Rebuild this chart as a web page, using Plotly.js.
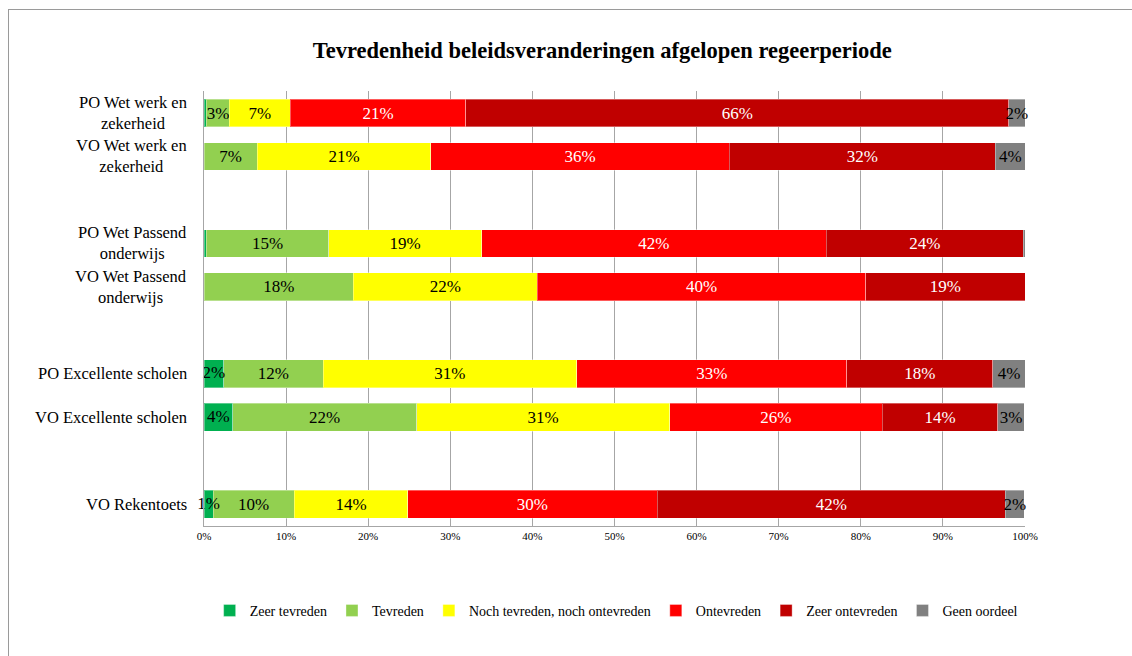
<!DOCTYPE html>
<html><head><meta charset="utf-8">
<script src="https://cdn.plot.ly/plotly-3.0.1.min.js"></script>
<style>html,body{margin:0;padding:0;background:#fff;overflow:hidden}
#frame{position:fixed;left:8px;top:9px;width:1200px;height:700px;border:1px solid #9a9a9a;pointer-events:none}
</style></head>
<body><div id="chart" style="width:1132px;height:656px"></div><div id="frame"></div>
<script>
const categories = ['PO Wet werk en<br>zekerheid','VO Wet werk en<br>zekerheid','PO Wet Passend<br>onderwijs','VO Wet Passend<br>onderwijs','PO Excellente scholen','VO Excellente scholen','VO Rekentoets'];
const categoryOrder = ['PO Wet werk en<br>zekerheid','VO Wet werk en<br>zekerheid',' ','PO Wet Passend<br>onderwijs','VO Wet Passend<br>onderwijs','  ','PO Excellente scholen','VO Excellente scholen','   ','VO Rekentoets'];
const seriesNames = ['Zeer tevreden','Tevreden','Noch tevreden, noch ontevreden','Ontevreden','Zeer ontevreden','Geen oordeel'];
const zeerTevreden   = [0.3, 0,    0.3, 0,    2.4, 3.5, 1.1];
const tevreden       = [2.8, 6.5,  14.9,18.2, 12.1,22.4, 9.9];
const noch           = [7.4, 21.1, 18.6,22.4, 30.9,30.8, 13.8];
const ontevreden     = [21.4,36.4, 42.0,40.0, 32.9,25.9, 30.4];
const zeerOntevreden = [66.1,32.4, 24.0,19.4, 17.8,14.1, 42.4];
const geenOordeel    = [2.0, 3.6,  0.2, 0,    3.9, 3.2,  2.3];
const tickVals = [0,10,20,30,40,50,60,70,80,90,100];

const colors = ['#00B050','#92D050','#FFFF00','#FF0000','#C00000','#808080'];
const textColors = ['#000','#000','#000','#fff','#fff','#000'];
const series = [zeerTevreden,tevreden,noch,ontevreden,zeerOntevreden,geenOordeel];
const font = 'Liberation Serif, Times New Roman, serif';
const label = v => v>=0.5 ? Math.round(v)+'%' : '';

const traces = series.map((vals,i)=>({
  type:'bar', orientation:'h', name:seriesNames[i],
  y:categories, x:vals,
  text: i===0 ? vals.map(()=> '') : vals.map(label),
  texttemplate:'%{text}', textposition:'inside', insidetextanchor:'middle', textangle:0,
  constraintext:'none', cliponaxis:false,
  textfont:{family:font,size:17,color:textColors[i]},
  marker:{color:colors[i], line:{color:'rgba(255,255,255,0.35)',width:1}},
  hoverinfo:'name+x'
}));
// labels of the thin first segment, drawn on top so they can overflow
traces.push({
  type:'scatter', mode:'text', showlegend:false, hoverinfo:'skip', cliponaxis:false,
  y:categories, x:zeerTevreden.map(v=>v/2), text:zeerTevreden.map(label),
  textposition:'middle center', textfont:{family:font,size:17,color:'#000'}
});

const annotations = categories.map(c=>({
  xref:'paper', x:0, xshift:-15, xanchor:'right', yref:'y', y:c, yanchor:'middle',
  text:c, align:'center', showarrow:false, font:{family:font,size:16.5,color:'#000'}
}));

const layout = {
  barmode:'stack', bargap:0.36,
  width:1132, height:656,
  margin:{l:204,r:107,t:91,b:130},
  paper_bgcolor:'#fff', plot_bgcolor:'#fff',
  font:{family:font,color:'#000'},
  title:{text:'<b>Tevredenheid beleidsveranderingen afgelopen regeerperiode</b>',
    font:{family:font,size:22.5,color:'#000'}, xref:'container', x:0.532, xanchor:'center', yref:'container', y:0.924, yanchor:'middle'},
  xaxis:{range:[0,100], tickvals:tickVals, ticktext:tickVals.map(v=>v+'%'),
    showgrid:true, gridcolor:'#a6a6a6', gridwidth:1, zeroline:false,
    showline:true, linecolor:'#a6a6a6', linewidth:1, ticks:'', tickfont:{family:font,size:11,color:'#000'}},
  yaxis:{type:'category', categoryorder:'array', categoryarray:categoryOrder, autorange:'reversed',
    range:[9.5,-0.5], showgrid:false, zeroline:false, showline:true, linecolor:'#a6a6a6', ticks:'',
    showticklabels:false},
  annotations:annotations,
  showlegend:true,
  legend:{orientation:'h', x:0.502, xanchor:'center', y:-0.195, yanchor:'middle',
    font:{family:font,size:14,color:'#000'}, traceorder:'normal', itemwidth:30},
};
Plotly.newPlot('chart', traces, layout, {staticPlot:true, displayModeBar:false});
</script></body></html>
